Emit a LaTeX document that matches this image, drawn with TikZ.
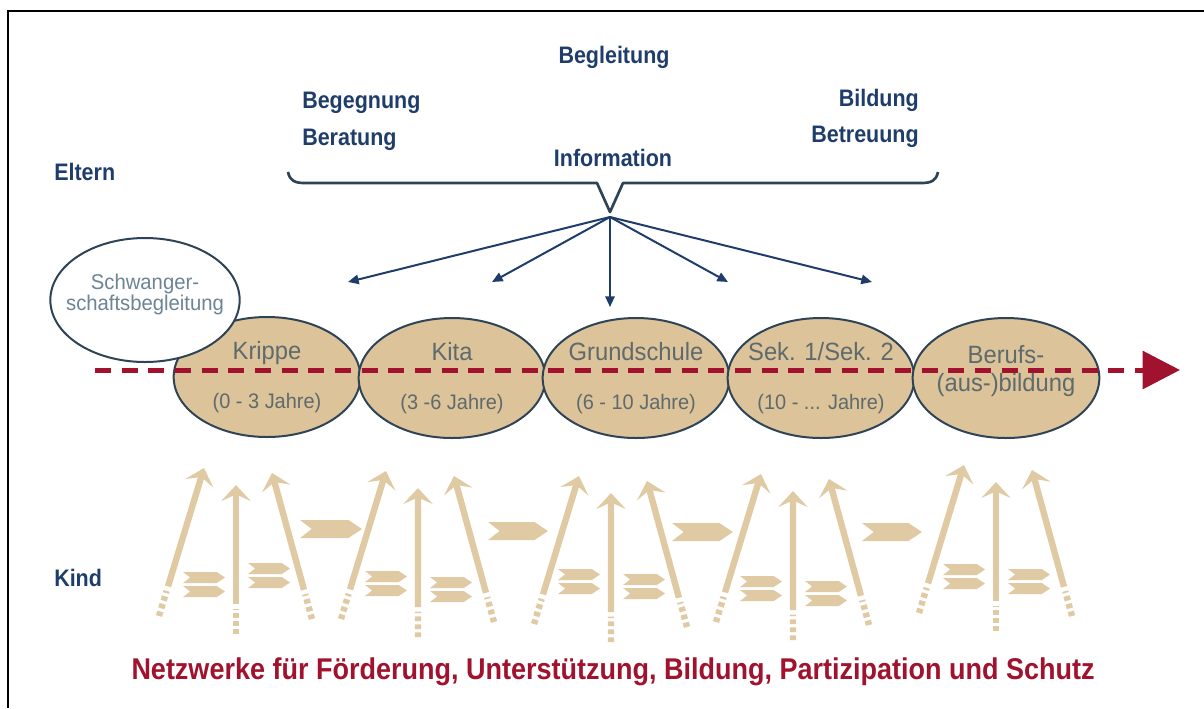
\documentclass[tikz,border=0pt]{standalone}
\usepackage{fontspec}
\setmainfont{Liberation Sans}[FakeStretch=0.95, BoldFeatures={FakeStretch=0.9}]
\usepackage{xcolor}
\usetikzlibrary{shapes.geometric,arrows.meta,calc}

\definecolor{elternblue}{HTML}{1F3D6B}
\definecolor{rimgray}{HTML}{2E4456}
\definecolor{phasefill}{HTML}{DCC39A}
\definecolor{phasetext}{HTML}{5E6A6C}
\definecolor{pregtext}{HTML}{6D8495}
\definecolor{pathred}{HTML}{A0122D}
\definecolor{kidtan}{HTML}{E0CAA3}

\tikzset{
  bluelabel/.style={text=elternblue, inner sep=0pt, font=\bfseries\fontsize{17.9pt}{20pt}\selectfont},
  phase/.style={ellipse, draw=rimgray, line width=1.5pt, fill=phasefill, minimum width=140pt,
    minimum height=90pt, inner sep=0pt},
  phaselabel/.style={align=center, inner sep=0pt, text=phasetext,
    font=\fontsize{18.75pt}{22pt}\selectfont},
  infoarrow/.style={draw=elternblue, line width=1.5pt, -{Triangle[length=8pt,width=7pt]}},
  kidshaft/.style={draw=kidtan, line width=4.8pt, -{Stealth[length=12pt,width=22pt,inset=5pt]}},
  kidtail/.style={draw=kidtan, line width=4.8pt, dash pattern=on 3.5pt off 2.5pt},
  pathline/.style={draw=pathred, line width=3.75pt, dash pattern=on 12pt off 8pt,
    -{Triangle[length=28pt,width=28pt]}}
}

% one arrow of the child row: tail, tip
\newcommand{\kidarrow}[2]{%
  \draw[kidshaft] ($(#1)!0.2!(#2)$) -- (#2);
  \draw[kidtail] (#1) -- ($(#1)!0.17!(#2)$);
}
% chevron: x, y, width, height
\newcommand{\fletch}[4]{%
  \fill[kidtan] ({#1},{#2}) -- ++({#3-0.75*#4},0) -- ++({0.75*#4},{#4/2}) -- ++({-0.75*#4},{#4/2})
    -- ++({0.75*#4-#3},0) -- ++({0.65*#4},{-#4/2}) -- cycle;
}
\newcommand{\fletchpair}[2]{\fletch{#1}{#2}{42}{11}\fletch{#1}{#2+14}{42}{11}}
% group of three arrows: centre x, shift, left pair y, right pair y
\newcommand{\arrowgroup}[4]{%
  \coordinate (lt) at ({#1-77},{619+#2});
  \coordinate (lh) at ({#1-32},{471+#2});
  \coordinate (ct) at ({#1},{637+#2});
  \coordinate (ch) at ({#1},{488+#2});
  \coordinate (rt) at ({#1+76},{622+#2});
  \coordinate (rh) at ({#1+36},{476+#2});
  \kidarrow{lt}{lh}
  \kidarrow{ct}{ch}
  \kidarrow{rt}{rh}
  \fletchpair{#1-53}{#3}
  \fletchpair{#1+12}{#4}
}

\begin{document}
\begin{tikzpicture}[x=0.75pt, y=-0.75pt]
\useasboundingbox (0,0) rectangle (1204,708);

% frame
\draw[line width=2pt] (8,708) -- (8,11) -- (1204,11);

% parents
\node[bluelabel, anchor=west] (eltern) at (54,172) {Eltern};
\node[bluelabel] (begleitung) at (614,57) {Begleitung};
\node[bluelabel, anchor=west] (begegnung) at (302,103) {Begegnung};
\node[bluelabel, anchor=west] (beratung) at (302,140) {Beratung};
\node[bluelabel, anchor=east] (bildung) at (919,100) {Bildung};
\node[bluelabel, anchor=east] (betreuung) at (919,137) {Betreuung};
\node[bluelabel] (information) at (613,158) {Information};

% brace
\coordinate (hub) at (610,217);
\draw[rimgray, line width=2pt, line join=round]
  (288,172) .. controls (290,181) and (295,183) .. (305,183) -- (597,183) -- (610,212)
  -- (623,183) -- (921,183) .. controls (931,183) and (936,181) .. (938,172);

\coordinate (toKrippe) at (348,282);
\coordinate (toKita) at (492,282);
\coordinate (toSchule) at (610,307);
\coordinate (toSek) at (728,282);
\coordinate (toBeruf) at (872,282);
\foreach \t in {toKrippe,toKita,toSchule,toSek,toBeruf}
  \draw[infoarrow] (hub) -- (\t);

% child
\node[bluelabel, anchor=west] (kind) at (54,578) {Kind};

\arrowgroup{236}{-3}{572}{563}
\arrowgroup{418}{0}{571}{577}
\arrowgroup{611}{5}{569}{574}
\arrowgroup{793}{3}{576}{581}
\arrowgroup{996}{-6}{564}{569}

\fletch{300}{520}{62}{18}
\fletch{488}{522}{60}{18}
\fletch{672}{523}{61}{18}
\fletch{862}{523}{60}{18}

% phases
\node[phase] (krippe) at (267,377) {};
\node[phase] (kita) at (452,378) {};
\node[phase] (schule) at (636,378) {};
\node[phase] (sek) at (821,378) {};
\node[phase] (beruf) at (1006,378) {};
\node[phaselabel] (krippeText) at (krippe) {Krippe\\[15pt]{\fontsize{15.75pt}{18pt}\selectfont (0 - 3 Jahre)}};
\node[phaselabel] (kitaText) at (kita) {Kita\\[15pt]{\fontsize{15.75pt}{18pt}\selectfont (3 -6 Jahre)}};
\node[phaselabel] (schuleText) at (schule) {Grundschule\\[15pt]{\fontsize{15.75pt}{18pt}\selectfont (6 - 10 Jahre)}};
\node[phaselabel] (sekText) at (sek) {Sek. 1/Sek. 2\\[15pt]{\fontsize{15.75pt}{18pt}\selectfont (10 - ... Jahre)}};
\node[phaselabel] (berufText) at ([yshift=5pt]beruf.center) {Berufs-\\[-1pt](aus-)bildung};

\node[ellipse, draw=rimgray, line width=1.5pt, fill=white, minimum width=142pt, minimum height=93pt,
  inner sep=0pt] (schwanger) at (145,300) {};
\node[align=center, inner sep=0pt, text=pregtext, font=\fontsize{16pt}{16pt}\selectfont]
  (schwangerText) at ([yshift=4pt]schwanger.center) {Schwanger-\\schaftsbegleitung};

% time line
\coordinate (lineStart) at (95,370);
\coordinate (lineEnd) at (1180,370);
\draw[pathline] (lineStart) -- (lineEnd);

\node[text=pathred, inner sep=0pt, font=\bfseries\fontsize{22.5pt}{25pt}\selectfont] (netzwerke) at (613,672)
  {Netzwerke für Förderung, Unterstützung, Bildung, Partizipation und Schutz};
\end{tikzpicture}
\end{document}
